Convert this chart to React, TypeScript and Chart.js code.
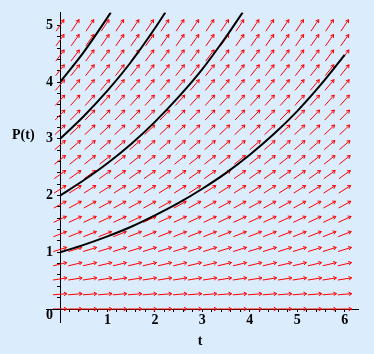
import { useEffect, useRef } from 'react';
import { Chart, registerables } from 'chart.js';
Chart.register(...registerables);

const BG = '#dbecfc';
const FONT = "'Liberation Serif', 'Times New Roman', serif";

// solution curves
const curveT1 = [0, 0.5, 1, 1.5, 2, 2.5, 3, 3.5, 4, 4.5, 5, 5.5, 6];
const curveP1 = [1, 1.13, 1.28, 1.45, 1.65, 1.87, 2.12, 2.4, 2.72, 3.08, 3.49, 3.96, 4.48];
const curveT2 = [0, 0.5, 1, 1.5, 2, 2.5, 3, 3.5, 3.85];
const curveP2 = [2, 2.27, 2.57, 2.91, 3.3, 3.74, 4.23, 4.8, 5.23];
const curveT3 = [0, 0.5, 1, 1.5, 2, 2.22];
const curveP3 = [3, 3.4, 3.85, 4.36, 4.95, 5.23];
const curveT4 = [0, 0.5, 1, 1.07];
const curveP4 = [4, 4.53, 5.14, 5.23];

// direction field grid (columns in t, rows in P) and slope per row
const fieldT = [0, 0.32, 0.63, 0.95, 1.26, 1.58, 1.89, 2.21, 2.53, 2.84, 3.16, 3.47, 3.79, 4.11, 4.42, 4.74, 5.05, 5.37, 5.68, 6.0];
const fieldP = [0, 0.26, 0.53, 0.79, 1.05, 1.32, 1.58, 1.84, 2.11, 2.37, 2.63, 2.89, 3.16, 3.42, 3.68, 3.95, 4.21, 4.47, 4.74, 5.0];
const fieldSlope = [0, 0.07, 0.13, 0.2, 0.26, 0.33, 0.39, 0.46, 0.53, 0.59, 0.66, 0.72, 0.79, 0.86, 0.92, 0.99, 1.05, 1.12, 1.18, 1.25];

const xTickLabels = ['1', '2', '3', '4', '5', '6'];
const yTickLabels = ['1', '2', '3', '4', '5'];
const xTitle = 't';
const yTitle = 'P(t)';
const originLabel = '0';

const X_MAX = 6.28;
const Y_MAX = 5.23;
const FIELD_INDEX = 4;

function zip(ts: number[], ps: number[]) {
  return ts.map((t, i) => ({ x: t, y: ps[i] }));
}

const isFifth = (v: number) => Math.abs(v * 5 - Math.round(v * 5)) < 1e-6;

function labelFor(list: string[]) {
  return (value: number | string) => {
    const v = Number(value);
    if (Math.abs(v - Math.round(v)) > 1e-6) return '';
    const s = String(Math.round(v));
    return list.includes(s) ? s : '';
  };
}

const decorPlugin = {
  id: 'decor',
  beforeDraw(chart: any) {
    const { ctx, width, height } = chart;
    ctx.save();
    ctx.fillStyle = BG;
    ctx.fillRect(0, 0, width, height);
    ctx.restore();
  },
  afterDatasetDraw(chart: any, args: any) {
    if (args.index !== FIELD_INDEX) return;
    const { ctx } = chart;
    const sx = chart.scales.x;
    const sy = chart.scales.y;
    const meta = chart.getDatasetMeta(FIELD_INDEX);
    const raws = chart.data.datasets[FIELD_INDEX].data;
    const kx = sx.getPixelForValue(1) - sx.getPixelForValue(0);
    const half = 7;
    const head = 3.5;
    ctx.save();
    ctx.strokeStyle = '#ff0000';
    ctx.lineWidth = 1;
    ctx.beginPath();
    meta.data.forEach((el: any, i: number) => {
      const raw = raws[i];
      const dy = sy.getPixelForValue(raw.s) - sy.getPixelForValue(0);
      const a = Math.atan2(dy, kx);
      const ux = Math.cos(a);
      const uy = Math.sin(a);
      const x1 = el.x - half * ux;
      const y1 = el.y - half * uy;
      const x2 = el.x + half * ux;
      const y2 = el.y + half * uy;
      ctx.moveTo(x1, y1);
      ctx.lineTo(x2, y2);
      const b1 = a + Math.PI - 0.55;
      const b2 = a + Math.PI + 0.55;
      ctx.moveTo(x2, y2);
      ctx.lineTo(x2 + head * Math.cos(b1), y2 + head * Math.sin(b1));
      ctx.moveTo(x2, y2);
      ctx.lineTo(x2 + head * Math.cos(b2), y2 + head * Math.sin(b2));
    });
    ctx.stroke();
    ctx.restore();
  },
  afterDraw(chart: any) {
    const { ctx } = chart;
    const sx = chart.scales.x;
    const sy = chart.scales.y;
    const x0 = Math.round(sx.getPixelForValue(0));
    const y0 = Math.round(sy.getPixelForValue(0));
    ctx.save();
    ctx.strokeStyle = '#000';
    ctx.lineWidth = 1;
    ctx.beginPath();
    ctx.moveTo(x0 - 14, y0 + 0.5);
    ctx.lineTo(x0, y0 + 0.5);
    ctx.moveTo(x0 + 0.5, y0);
    ctx.lineTo(x0 + 0.5, y0 + 14);
    ctx.stroke();
    ctx.fillStyle = '#000';
    ctx.font = `bold 14px ${FONT}`;
    ctx.textAlign = 'center';
    ctx.textBaseline = 'middle';
    ctx.fillText(originLabel, x0 - 10.5, y0 + 6);
    ctx.fillText(xTitle, 200, 341);
    ctx.textAlign = 'left';
    ctx.fillText(yTitle, 12, 135);
    ctx.restore();
  },
};

export default function App() {
  const ref = useRef<HTMLCanvasElement | null>(null);

  useEffect(() => {
    document.body.style.margin = '0';
    document.body.style.background = BG;
    document.documentElement.style.background = BG;
    const canvas = ref.current;
    if (!canvas) return;

    const fieldData: { x: number; y: number; s: number }[] = [];
    fieldP.forEach((p, r) => {
      fieldT.forEach((t) => {
        fieldData.push({ x: t, y: p, s: fieldSlope[r] });
      });
    });

    const curveStyle = {
      showLine: true,
      borderColor: '#000000',
      borderWidth: 2,
      pointRadius: 0,
      cubicInterpolationMode: 'monotone' as const,
      fill: false,
    };

    const chart = new Chart(canvas, {
      type: 'scatter',
      data: {
        datasets: [
          { ...curveStyle, data: zip(curveT1, curveP1) },
          { ...curveStyle, data: zip(curveT2, curveP2) },
          { ...curveStyle, data: zip(curveT3, curveP3) },
          { ...curveStyle, data: zip(curveT4, curveP4) },
          {
            data: fieldData as any,
            showLine: false,
            pointRadius: 0,
            clip: false as any,
          } as any,
        ],
      },
      options: {
        responsive: false,
        animation: false,
        events: [],
        layout: { padding: { top: 12, right: 16, left: 0, bottom: 0 } },
        plugins: { legend: { display: false }, tooltip: { enabled: false } },
        scales: {
          x: {
            type: 'linear',
            min: 0,
            max: X_MAX,
            position: 'bottom',
            z: 1,
            grid: { drawOnChartArea: false, drawTicks: true, tickLength: 3, tickColor: '#000', tickWidth: 1 },
            border: { display: true, color: '#000', width: 1 },
            ticks: {
              stepSize: 0.2,
              autoSkip: false,
              maxRotation: 0,
              padding: 0,
              color: '#000',
              font: { family: FONT, size: 14, weight: 'bold' },
              callback: labelFor(xTickLabels),
            },
            afterBuildTicks: (s: any) => {
              s.ticks = s.ticks.filter((t: any) => isFifth(t.value) && t.value >= 0);
            },
            afterFit: (s: any) => {
              s.height = 45;
            },
          },
          y: {
            type: 'linear',
            min: 0,
            max: Y_MAX,
            position: 'left',
            z: 1,
            grid: { drawOnChartArea: false, drawTicks: true, tickLength: 3, tickColor: '#000', tickWidth: 1 },
            border: { display: true, color: '#000', width: 1 },
            ticks: {
              stepSize: 0.2,
              autoSkip: false,
              padding: 4,
              color: '#000',
              font: { family: FONT, size: 14, weight: 'bold' },
              callback: labelFor(yTickLabels),
            },
            afterBuildTicks: (s: any) => {
              s.ticks = s.ticks.filter((t: any) => isFifth(t.value) && t.value >= 0);
            },
            afterFit: (s: any) => {
              s.width = 60;
            },
          },
        },
      } as any,
      plugins: [decorPlugin],
    });
    return () => chart.destroy();
  }, []);

  return (
    <div style={{ width: 374, height: 354, background: BG }}>
      <canvas ref={ref} width={374} height={354} style={{ display: 'block', width: 374, height: 354 }} />
    </div>
  );
}
